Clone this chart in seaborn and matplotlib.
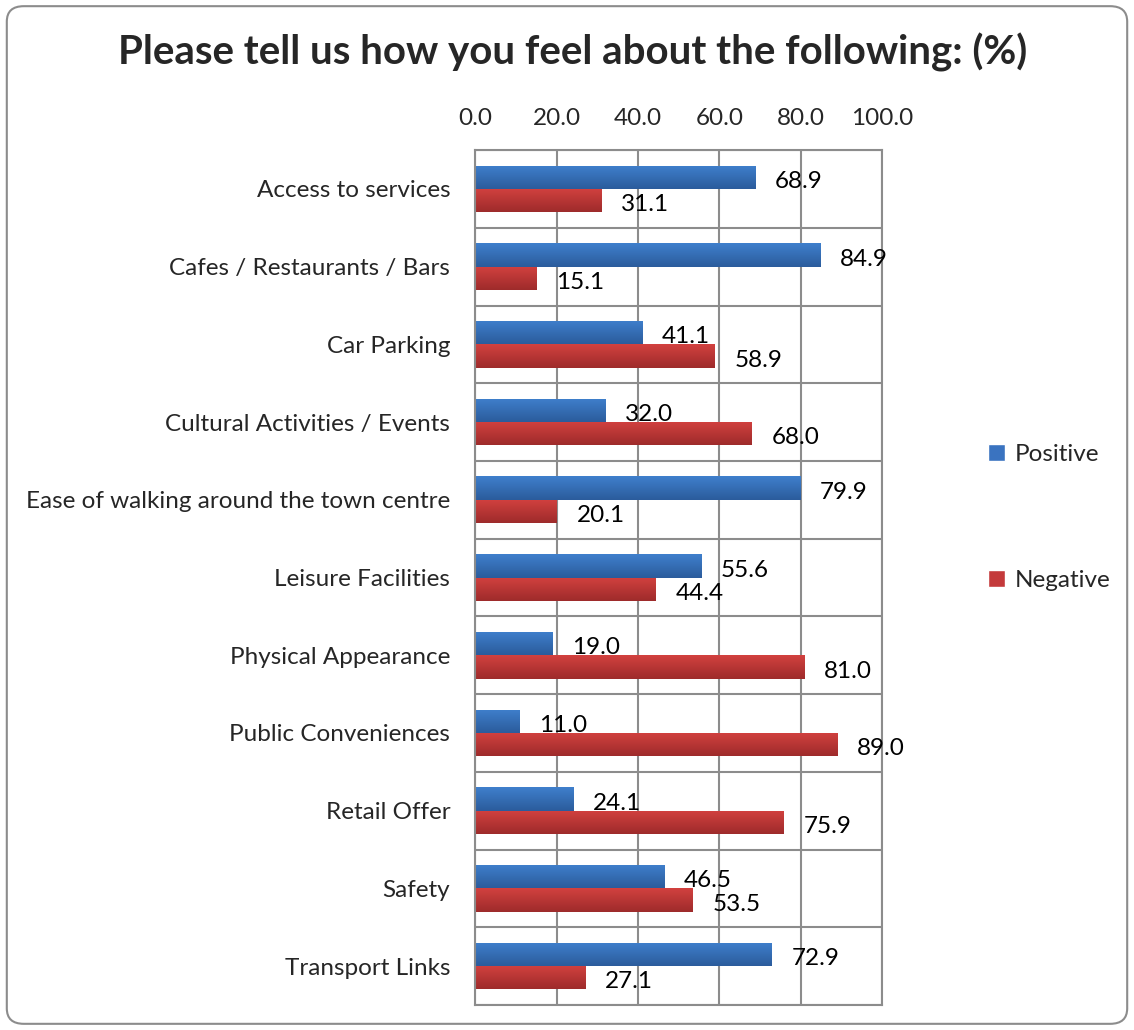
import pandas as pd
import numpy as np
import matplotlib.pyplot as plt
import seaborn as sns
from matplotlib.patches import FancyBboxPatch
from matplotlib.colors import LinearSegmentedColormap
from matplotlib.ticker import FixedLocator, FormatStrFormatter

# Chart data
categories = ['Access to services', 'Cafes / Restaurants / Bars', 'Car Parking',
              'Cultural Activities / Events', 'Ease of walking around the town centre',
              'Leisure Facilities', 'Physical Appearance', 'Public Conveniences',
              'Retail Offer', 'Safety', 'Transport Links']
positive = [68.9, 84.9, 41.1, 32.0, 79.9, 55.6, 19.0, 11.0, 24.1, 46.5, 72.9]
negative = [31.1, 15.1, 58.9, 68.0, 20.1, 44.4, 81.0, 89.0, 75.9, 53.5, 27.1]
series = ['Positive', 'Negative']
colors = ['#3a73c0', '#c43a3b']
# light (top) / dark (bottom) shades for the bar gradients
shades = [('#3f7fcc', '#2b5c9c'), ('#d2413f', '#9e2b2b')]

# Long format for seaborn
df = pd.DataFrame({
    'Category': categories * 2,
    'Value': positive + negative,
    'Series': ['Positive'] * len(categories) + ['Negative'] * len(categories),
})

sns.set_style('white')
plt.rcParams['font.family'] = ['Lato', 'DejaVu Sans']
fs = 17.5

fig = plt.figure(figsize=(11.34, 10.30), dpi=100)
ax = fig.add_axes([0.419, 0.0243, 0.359, 0.8300])

sns.barplot(data=df, y='Category', x='Value', hue='Series', hue_order=series,
            palette=colors, orient='h', width=0.6, order=categories, ax=ax,
            saturation=1, legend=True)

ax.set_xlim(0, 100)
ax.set_ylim(len(categories) - 0.5, -0.5)

# Vertical gradient fill on each bar
grad = np.linspace(0, 1, 64).reshape(-1, 1)
for container, (light, dark) in zip(ax.containers, shades):
    cmap = LinearSegmentedColormap.from_list('g', [light, dark])
    for bar in container:
        x0, y0 = bar.get_x(), bar.get_y()
        w, h = bar.get_width(), bar.get_height()
        im = ax.imshow(grad, cmap=cmap, aspect='auto', zorder=bar.get_zorder(),
                       extent=(x0, x0 + w, y0, y0 + h), origin='lower')
        im.set_clip_path(bar)
        bar.set_facecolor('none')
        bar.set_edgecolor('none')
ax.set_xlim(0, 100)
ax.set_ylim(len(categories) - 0.5, -0.5)

# Data labels (slightly below bar centre, as in the original)
for container in ax.containers:
    texts = ax.bar_label(container, fmt='%.1f', padding=14, fontsize=fs, color='black')
    for t in texts:
        t.xyann = (14, -3)

# Axis settings
ax.xaxis.tick_top()
ax.xaxis.set_major_locator(FixedLocator([0, 20, 40, 60, 80, 100]))
ax.xaxis.set_major_formatter(FormatStrFormatter('%.1f'))
ax.yaxis.set_minor_locator(FixedLocator(np.arange(-0.5, len(categories), 1)))
ax.tick_params(axis='x', which='both', length=0, labelsize=fs, pad=15)
ax.tick_params(axis='y', which='both', length=0, labelsize=fs, pad=18)
ax.set_xlabel('')
ax.set_ylabel('')

ax.grid(axis='x', which='major', color='#8c8c8c', linewidth=1.5)
ax.grid(axis='y', which='minor', color='#8c8c8c', linewidth=1.5)
ax.set_axisbelow(True)
for spine in ax.spines.values():
    spine.set_color('#8c8c8c')
    spine.set_linewidth(1.5)

# Legend on right
handles, labels = ax.get_legend_handles_labels()
ax.legend(handles, labels, loc='center left', bbox_to_anchor=(1.205, 0.57),
          frameon=False, fontsize=fs, handlelength=0.7, handleheight=0.7,
          handletextpad=0.4, labelspacing=4.3)

fig.suptitle('Please tell us how you feel about the following: (%)',
             fontsize=29, fontweight='bold', x=0.505, y=0.968, va='top')

# Rounded border around the chart
border = FancyBboxPatch((0.006, 0.006), 0.988, 0.988, transform=fig.transFigure,
                        boxstyle='round,pad=0,rounding_size=0.015',
                        facecolor='none', edgecolor='#8c8c8c', linewidth=1.5)
fig.patches.append(border)

fig.savefig('out.png', dpi=100)
